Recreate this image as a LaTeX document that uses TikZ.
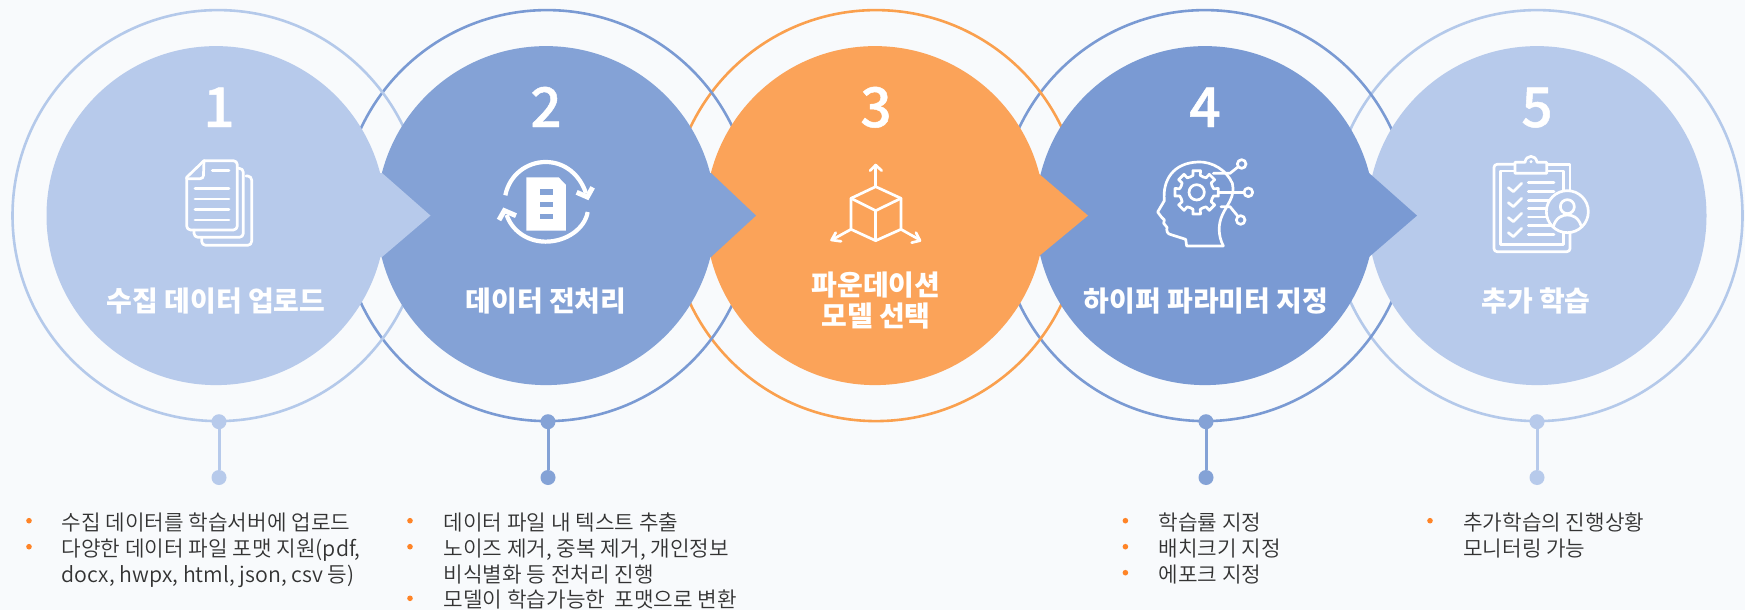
\documentclass[tikz,border=0pt]{standalone}
\usepackage{fontspec}
\setmainfont{Noto Sans CJK KR}
\newfontfamily\medfont[FakeBold=0.9]{Noto Sans CJK KR Medium}
\newfontfamily\lightfont{Noto Sans CJK KR DemiLight}
\definecolor{bg}{HTML}{F8FAFC}
\definecolor{cA}{HTML}{B7CAEB}
\definecolor{cB}{HTML}{84A2D6}
\definecolor{cC}{HTML}{FBA359}
\definecolor{cD}{HTML}{7A9AD3}
\definecolor{ringA}{HTML}{B4C9EA}
\definecolor{ringB}{HTML}{7A9AD3}
\definecolor{ringC}{HTML}{FAA04E}
\definecolor{bul}{HTML}{FF8427}
\definecolor{txt}{HTML}{333333}
\tikzset{
  ring/.style={circle,draw=#1,line width=2.6pt,minimum size=411pt,inner sep=0pt,fill=none},
  disc/.style={circle,fill=#1,minimum size=339pt,inner sep=0pt},
  pin/.style={circle,fill=#1,minimum size=15pt,inner sep=0pt},
  stem/.style={draw=#1,line width=3pt},
  numtxt/.style={text=white,font=\fontsize{55}{60}\medfont,anchor=base,inner sep=0pt},
  titletxt/.style={text=white,font=\fontsize{28}{31}\selectfont\bfseries,anchor=base,inner sep=0pt,align=center},
  bodytxt/.style={text=txt,font=\fontsize{21.3}{26}\lightfont,anchor=base west,inner sep=0pt},
  bulletdot/.style={circle,fill=bul,minimum size=5.6pt,inner sep=0pt},
  icon/.style={draw=white,line width=2.7pt,line cap=round,line join=round},
  iconthick/.style={draw=white,line width=4.2pt,line join=miter},
}
\begin{document}
\begin{tikzpicture}[x=1pt,y=-1pt]
\useasboundingbox (0,0) rectangle (1745,610);
\fill[bg] (0,0) rectangle (1745,610);
% outer rings
\node[ring=ringA] (r5) at (1537,215.6) {};
\node[ring=ringB] (r4) at (1205,215.6) {};
\node[ring=ringC] (r3) at (876,215.6) {};
\node[ring=ringB] (r2) at (547,215.6) {};
\node[ring=ringA] (r1) at (218,215.6) {};
% discs with pointers, last step first
\node[disc=cA] (d5) at (1537,215.6) {};
\fill[cD] (1340,173) -- (1369,173) -- (1417,215.6) -- (1369,257) -- (1340,257) -- cycle;
\node[disc=cD] (d4) at (1205,215.6) {};
\fill[cC] (1000,173) -- (1038,173) -- (1088,215.6) -- (1038,257) -- (1000,257) -- cycle;
\node[disc=cC] (d3) at (875,215.6) {};
\fill[cB] (680,173) -- (711,173) -- (756,215.6) -- (711,257) -- (680,257) -- cycle;
\node[disc=cB] (d2) at (546,215.6) {};
\fill[cA] (350,173) -- (382,173) -- (430.5,215.6) -- (382,257) -- (350,257) -- cycle;
\node[disc=cA] (d1) at (216,215.6) {};
% pins and stems
\node[pin=cA] (p1a) at (219,421.7) {};
\node[pin=cA] (p1b) at (219,477.5) {};
\draw[stem=cA] (p1a) -- (p1b);
\node[pin=cB] (p2a) at (548,421.7) {};
\node[pin=cB] (p2b) at (548,477.5) {};
\draw[stem=cB] (p2a) -- (p2b);
\node[pin=cB] (p4a) at (1206,421.7) {};
\node[pin=cB] (p4b) at (1206,477.5) {};
\draw[stem=cB] (p4a) -- (p4b);
\node[pin=cA] (p5a) at (1537,421.7) {};
\node[pin=cA] (p5b) at (1537,477.5) {};
\draw[stem=cA] (p5a) -- (p5b);
% numbers
\node[numtxt] (n1) at (219,127) {1};
\node[numtxt] (n2) at (546,127) {2};
\node[numtxt] (n3) at (876,127) {3};
\node[numtxt] (n4) at (1205,127) {4};
\node[numtxt] (n5) at (1537,127) {5};
% titles
\node[titletxt] (t1) at (216,311) {수집 데이터 업로드};
\node[titletxt] (t2) at (546,311) {데이터 전처리};
\node[titletxt] (t3a) at (876,295) {파운데이션};
\node[titletxt] (t3b) at (876,326) {모델 선택};
\node[titletxt] (t4) at (1206,311) {하이퍼 파라미터 지정};
\node[titletxt] (t5) at (1536,311) {추가 학습};
% body column 1
\node[bulletdot] (b11) at (29,520.7) {};
\node[bodytxt] (x11) at (61.5,530) {수집 데이터를 학습서버에 업로드};
\node[bulletdot] (b12) at (29,546.7) {};
\node[bodytxt] (x12) at (61.5,556) {다양한 데이터 파일 포맷 지원(pdf,};
\node[bodytxt] (x13) at (61.5,582) {docx, hwpx, html, json, csv 등)};
% column 2
\node[bulletdot] (b21) at (410,520.7) {};
\node[bodytxt] (x21) at (443.5,530) {데이터 파일 내 텍스트 추출};
\node[bulletdot] (b22) at (410,546.7) {};
\node[bodytxt] (x22) at (443.5,556) {노이즈 제거, 중복 제거, 개인정보};
\node[bodytxt] (x23) at (443.5,582) {비식별화 등 전처리 진행};
\node[bulletdot] (b24) at (410,598.3) {};
\node[bodytxt] (x24) at (443.5,607.6) {모델이 학습가능한\ \ 포맷으로 변환};
% column 4
\node[bulletdot] (b41) at (1125.4,520.7) {};
\node[bodytxt] (x41) at (1158.5,530) {학습률 지정};
\node[bulletdot] (b42) at (1125.4,546.7) {};
\node[bodytxt] (x42) at (1158.5,556) {배치크기 지정};
\node[bulletdot] (b43) at (1125.4,572.7) {};
\node[bodytxt] (x43) at (1158.5,582) {에포크 지정};
% column 5
\node[bulletdot] (b51) at (1430,520.7) {};
\node[bodytxt] (x51) at (1463,530) {추가학습의 진행상황};
\node[bodytxt] (x52) at (1463,556) {모니터링 가능};
% icon 1: stacked pages
\begin{scope}[shift={(160,140)},x=0.3333pt,y=-0.3333pt,icon]
\draw[rounded corners=4pt] (125,292) -- (125,316) -- (275,316) -- (275,108) -- (258,108);
\draw[rounded corners=4pt] (102,270) -- (102,292) -- (250,292) -- (250,85) -- (232,85);
\draw[rounded corners=4pt] (132,62) -- (232,62) -- (232,270) -- (80,270) -- (80,112);
\draw (80,112) -- (132,62);
\draw[rounded corners=3pt] (80,116) -- (130,116) -- (132,62);
\draw (157,92) -- (207,92);
\draw (105,145) -- (207,145);
\draw (105,177) -- (207,177);
\draw (105,208) -- (207,208);
\draw (105,240) -- (207,240);
\end{scope}
% icon 2: cycle with document
\begin{scope}[shift={(480,140)},x=0.3333pt,y=-0.3333pt]
\draw[iconthick] (76,166) .. controls (88,105) and (140,66) .. (197,66) .. controls (255,66) and (300,105) .. (318,160);
\draw[iconthick] (323,216) .. controls (315,265) and (260,305) .. (197,305) .. controls (140,305) and (95,270) .. (80,225);
\draw[iconthick,line width=5pt] (290,157) -- (322,171) -- (338,142);
\draw[iconthick,line width=5pt] (108,227) -- (73,212) -- (57,240);
\fill[white] (139,112) -- (236,112) -- (258,135) -- (258,272) -- (139,272) -- cycle;
\fill[cB] (180,148) rectangle (218,165);
\fill[cB] (180,185) rectangle (218,202);
\fill[cB] (180,222) rectangle (218,238);
\end{scope}
% icon 3: cube with arrows
\begin{scope}[shift={(815,150)},x=0.3333pt,y=-0.3333pt,icon]
\draw (182,110) -- (258,145) -- (258,238) -- (182,272) -- (108,238) -- (108,145) -- cycle;
\draw (108,145) -- (182,182) -- (258,145);
\draw (182,182) -- (182,272);
\draw (182,110) -- (182,45);
\draw (165,62) -- (182,45) -- (200,62);
\draw (108,238) -- (50,270);
\draw (62,248) -- (50,270) -- (78,274);
\draw (258,238) -- (315,270);
\draw (303,248) -- (315,272) -- (290,278);
\end{scope}
% icon 4: head with gear
\begin{scope}[shift={(1145,140)},x=0.3333pt,y=-0.3333pt,icon]
\draw (235,318) -- (125,318) -- (122,298) -- (78,284) .. controls (66,282) and (64,272) .. (66,262) -- (56,250) -- (58,240) -- (50,232) -- (38,216) -- (58,182)
  .. controls (52,120) and (85,68) .. (160,66) .. controls (200,64) and (245,90) .. (262,130);
\draw (262,130) .. controls (272,170) and (245,195) .. (232,225) .. controls (220,250) and (218,285) .. (235,318);
\begin{scope}[shift={(155,157)}]
\draw (0,0) circle (23);
\draw (67.5:50) \foreach \a in {0,45,...,315} { -- ({\a+78}:52) -- ({\a+80}:66) -- ({\a+100}:66) -- ({\a+102}:52) -- ({\a+112.5}:50)} -- cycle;
\end{scope}
\draw (205,100) -- (255,100) -- (280,80);
\draw (290,72) circle (13);
\draw (221,157) -- (297,157);
\draw (310,157) circle (13);
\draw (228,200) -- (255,200) -- (278,228);
\draw (287,240) circle (13);
\end{scope}
% icon 5: clipboard with person
\begin{scope}[shift={(1480,145)},x=0.3333pt,y=-0.3333pt,icon]
\draw[rounded corners=3pt] (105,58) -- (42,58) -- (42,320) -- (270,320) -- (270,150);
\draw (200,58) -- (270,58) -- (270,150);
\draw (105,78) -- (62,78) -- (62,298) -- (250,298) -- (250,150);
\draw (200,78) -- (250,78) -- (250,150);
\draw[fill=cA] (105,85) -- (105,52) -- (135,52) .. controls (138,28) and (168,28) .. (171,52) -- (200,52) -- (200,85) -- cycle;
\fill[white] (153,50) circle (5);
\foreach \y in {125,170,215,260} {
  \draw (85,\y+3) -- (100,\y+15) -- (125,\y-10);
}
\foreach \y in {113,140,166,191,216,242,268} {
  \draw (145,\y) -- (222,\y);
}
\draw[fill=cA] (262,200) circle (63);
\draw (262,185) circle (21);
\draw (220,245) .. controls (228,215) and (250,210) .. (262,210) .. controls (275,210) and (296,215) .. (304,245);
\end{scope}
\end{tikzpicture}
\end{document}
